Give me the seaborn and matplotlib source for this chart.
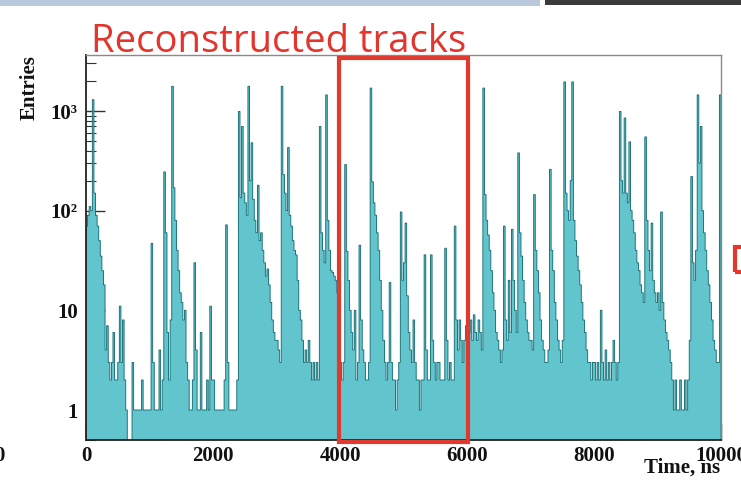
import numpy as np
import pandas as pd
import matplotlib
matplotlib.use("Agg")
import matplotlib.pyplot as plt
import matplotlib.transforms as mtransforms
from matplotlib.patches import Rectangle
from matplotlib.ticker import FixedLocator, LogLocator, NullFormatter, MultipleLocator
import seaborn as sns

sns.set_theme(style="white")
plt.rcParams["font.family"] = ["Liberation Serif", "DejaVu Serif"]

# Time histogram of reconstructed tracks, 25 ns bins, one list per microsecond
BIN_WIDTH = 25
counts_0_1us = [70, 90, 110, 100, 1300, 150, 90, 70, 50, 35, 25, 18, 4, 7, 3, 2, 3, 6, 2, 2,
                3, 11, 3, 8, 2, 1, 0, 0, 0, 3, 1, 1, 1, 1, 1, 2, 1, 1, 1, 1]
counts_1_2us = [1, 47, 3, 1, 1, 1, 4, 1, 2, 245, 60, 6, 2, 8, 1770, 170, 80, 40, 25, 15,
                12, 8, 10, 3, 2, 1, 1, 2, 30, 4, 1, 1, 6, 1, 1, 1, 2, 1, 11, 2]
counts_2_3us = [2, 1, 1, 1, 1, 1, 1, 2, 72, 3, 1, 1, 1, 1, 1, 2, 990, 135, 700, 150,
                120, 90, 1770, 200, 480, 130, 80, 60, 180, 50, 60, 40, 30, 22, 26, 18, 12, 8, 6, 5]
counts_3_4us = [5, 4, 3, 1770, 230, 150, 100, 430, 90, 70, 50, 40, 36, 20, 10, 8, 5, 3, 4, 3,
                5, 3, 2, 3, 2, 3, 2, 700, 60, 40, 30, 1450, 80, 40, 25, 24, 22, 20, 15, 8]
counts_4_5us = [3, 2, 3, 290, 39, 20, 10, 6, 4, 10, 2, 3, 45, 8, 4, 3, 2, 2, 3, 1700,
                195, 120, 90, 60, 40, 20, 10, 5, 3, 2, 3, 19, 3, 2, 2, 1, 2, 3, 97, 20]
counts_5_6us = [30, 75, 14, 6, 4, 3, 8, 3, 2, 2, 1, 2, 2, 36, 4, 2, 2, 36, 5, 3,
                2, 3, 3, 2, 2, 2, 42, 5, 2, 3, 2, 2, 70, 8, 4, 8, 5, 3, 5, 7]
counts_6_7us = [10, 6, 8, 5, 9, 6, 5, 8, 6, 4, 1700, 145, 80, 57, 40, 25, 15, 10, 6, 5,
                4, 3, 4, 70, 8, 5, 20, 6, 65, 20, 10, 6, 380, 60, 35, 20, 12, 8, 6, 5]
counts_7_8us = [5, 4, 145, 40, 25, 15, 8, 5, 4, 3, 3, 4, 260, 40, 25, 12, 8, 5, 4, 3,
                5, 1960, 150, 100, 80, 200, 1960, 80, 50, 35, 25, 18, 12, 8, 6, 4, 3, 3, 2, 3]
counts_8_9us = [3, 2, 3, 2, 10, 3, 2, 4, 2, 3, 2, 3, 5, 3, 2, 3, 990, 200, 150, 850,
                150, 120, 490, 100, 80, 60, 40, 30, 25, 18, 15, 12, 550, 80, 40, 25, 75, 20, 15, 12]
counts_9_10us = [15, 10, 97, 12, 8, 6, 5, 4, 3, 2, 1, 2, 1, 1, 2, 1, 1, 2, 1, 2,
                 5, 220, 30, 20, 40, 1450, 300, 700, 100, 60, 40, 25, 18, 12, 8, 5, 4, 3, 3, 1450]

y_ticks = [1, 10, 100, 1000]
y_tick_labels = ["1", "10", "10²", "10³"]
x_ticks = [0, 2000, 4000, 6000, 8000, 10000]
x_tick_labels = ["0", "2000", "4000", "6000", "8000", "10000"]
window_ns = (4000, 6000)

counts = (counts_0_1us + counts_1_2us + counts_2_3us + counts_3_4us + counts_4_5us
          + counts_5_6us + counts_6_7us + counts_7_8us + counts_8_9us + counts_9_10us)
centers = np.arange(len(counts)) * BIN_WIDTH + BIN_WIDTH / 2
df = pd.DataFrame({"time": centers, "entries": counts})

W, H = 741, 482
fig = plt.figure(figsize=(W / 100, H / 100), dpi=100)
fig.patch.set_facecolor("white")
ax = fig.add_axes([86 / W, 42 / H, 635 / W, 385 / H])
ax.set_yscale("log")

sns.histplot(data=df, x="time", weights="entries", binwidth=BIN_WIDTH, binrange=(0, 10000),
             element="step", fill=True, color="#62c5ce", alpha=1.0,
             edgecolor="#146d73", linewidth=0.65, ax=ax)

ax.set_xlim(0, 10000)
ax.set_ylim(0.5, 3650)
ax.set_xlabel("")
ax.set_ylabel("")
ax.set_facecolor("white")

for side in ("left", "bottom"):
    ax.spines[side].set_color("#222222")
    ax.spines[side].set_linewidth(1.3)
for side in ("top", "right"):
    ax.spines[side].set_color("#8a8a8a")
    ax.spines[side].set_linewidth(1.0)

ax.yaxis.set_major_locator(FixedLocator(y_ticks))
ax.yaxis.set_minor_locator(LogLocator(base=10, subs=range(2, 10)))
ax.yaxis.set_minor_formatter(NullFormatter())
ax.set_yticklabels(y_tick_labels)
ax.xaxis.set_major_locator(FixedLocator(x_ticks))
ax.xaxis.set_minor_locator(MultipleLocator(400))
ax.set_xticklabels(x_tick_labels)

ax.tick_params(axis="y", which="major", direction="in", length=14, width=1.0,
               color="#333333", left=True, right=False, pad=6, labelsize=15)
ax.tick_params(axis="y", which="minor", direction="in", length=7, width=0.8,
               color="#333333", left=True, right=False)
ax.tick_params(axis="x", which="major", direction="in", length=12, width=1.0,
               color="#333333", bottom=True, top=False, pad=4, labelsize=15)
ax.tick_params(axis="x", which="minor", direction="in", length=6, width=0.8,
               color="#333333", bottom=True, top=False)
for lab in ax.get_xticklabels() + ax.get_yticklabels():
    lab.set_fontweight("bold")
    lab.set_color("#111111")

# highlighted time window
blend = mtransforms.blended_transform_factory(ax.transData, ax.transAxes)
ax.add_patch(Rectangle((window_ns[0] - 10, -0.005), window_ns[1] - window_ns[0] + 25, 0.998,
                       transform=blend, fill=False, edgecolor="#e2392e", linewidth=3,
                       clip_on=False, zorder=5))

fig.text(91 / W, 1 - 52 / H, "Reconstructed tracks", family=["Open Sans", "DejaVu Sans"],
         fontsize=27.5, color="#e4342b", va="baseline", ha="left")
fig.text(30 / W, 1 - 55 / H, "Entries", rotation=90, ha="center", va="top",
         fontsize=15, fontweight="bold", color="#111111")
fig.text(720 / W, 1 - 468 / H, "Time, ns", ha="right", va="center",
         fontsize=15, fontweight="bold", color="#111111")

# slide furniture around the chart
fig.patches.append(Rectangle((0, 1 - 6 / H), 540 / W, 6 / H, transform=fig.transFigure,
                             facecolor="#b9c9db", edgecolor="none"))
fig.patches.append(Rectangle((545 / W, 1 - 5 / H), 196 / W, 5 / H, transform=fig.transFigure,
                             facecolor="#3a3a3a", edgecolor="none"))
fig.patches.append(Rectangle((735 / W, 1 - 272 / H), 30 / W, 25 / H, transform=fig.transFigure,
                             facecolor="none", edgecolor="#e2392e", linewidth=3))
fig.text(5 / W, 1 - 456 / H, "0", ha="right", va="center", fontsize=15,
         fontweight="bold", color="#111111")

fig.savefig("out.png", dpi=100)
